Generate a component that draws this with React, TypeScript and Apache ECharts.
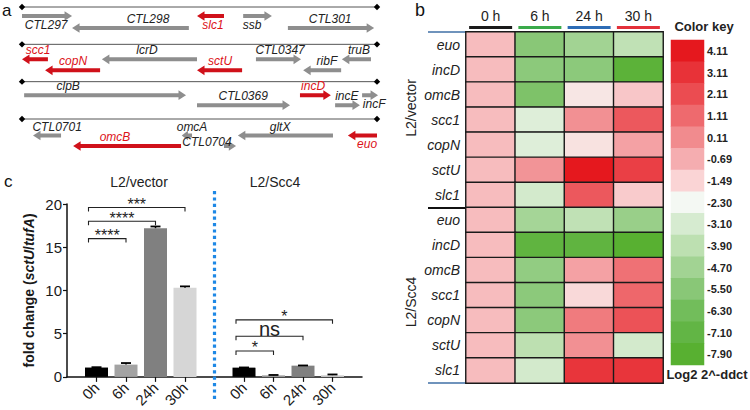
import React, { useEffect, useRef } from 'react';
import * as echarts from 'echarts';

const FONT = '"Liberation Sans", Arial, Helvetica, sans-serif';

// ---------------- panel a : gene map ----------------
// [name, start, end, lane(0 upper / 1 lower), strand, label side, label position, highlighted]
type Gene = [string, number, number, number, number, string, number, boolean];
const row1Genes: Gene[] = [
  ['CTL297', 0, 14.1, 0, 1, 'below', 6.8, false],
  ['CTL298', 14.1, 47.0, 1, -1, 'above', 35.5, false],
  ['slc1', 49.3, 56.9, 0, -1, 'below', 53.8, true],
  ['ssb', 62.3, 70.4, 0, 1, 'below', 64.8, false],
  ['CTL301', 74.9, 99.2, 1, 1, 'above', 86.8, false],
];
const row2Genes: Gene[] = [
  ['scc1', 0, 7.3, 0, -1, 'above', 4.5, true],
  ['copN', 6.5, 22, 1, -1, 'above', 14.4, true],
  ['lcrD', 22.5, 49.3, 0, -1, 'above', 35.2, false],
  ['sctU', 49.3, 62, 1, -1, 'above', 55.8, true],
  ['CTL0347', 65.9, 78.6, 0, 1, 'above', 72.7, false],
  ['ribF', 79.2, 89.9, 1, -1, 'above', 85.9, false],
  ['truB', 90.1, 98.3, 0, -1, 'above', 94.9, false],
];
const row3Genes: Gene[] = [
  ['clpB', 0.6, 46.2, 0, 1, 'above', 13, false],
  ['CTL0369', 49.3, 75.5, 1, 1, 'above', 62.3, false],
  ['incD', 78.3, 87, 0, 1, 'above', 82, true],
  ['incE', 88.2, 95.2, 1, 1, 'above', 91.5, false],
  ['incF', 95.8, 100.3, 0, 1, 'below', 99.2, false],
];
const row4Genes: Gene[] = [
  ['CTL0701', 3.1, 11, 0, -1, 'above', 9.9, false],
  ['omcB', 14.4, 44.8, 1, -1, 'above', 26.2, true],
  ['omcA', 45, 47.9, 0, -1, 'above', 47.9, false],
  ['CTL0704', 56.9, 60.3, 1, 1, 'beside', 52.1, false],
  ['gltX', 60.8, 87.6, 0, -1, 'above', 72.7, false],
  ['euo', 91.8, 100, 0, -1, 'below', 97.2, true],
];
const geneRows = [row1Genes, row2Genes, row3Genes, row4Genes];
const fragmentStart = 0;
const fragmentEnd = 100;

// ---------------- panel b : heatmap ----------------
const heatCols = ['0 h', '6 h', '24 h', '30 h'];
const heatGenes = ['euo', 'incD', 'omcB', 'scc1', 'copN', 'sctU', 'slc1'];
const vectorLog2 = [
  [-1.0, -5.5, -4.7, -3.8],
  [-1.0, -5.4, -5.4, -7.6],
  [-1.0, -5.9, -1.9, -1.2],
  [-1.0, -2.9, 0.0, 1.7],
  [-1.0, -2.9, -1.8, -0.4],
  [-1.0, -0.1, 4.11, 2.6],
  [-1.0, -3.2, 1.7, -1.3],
];
const scc4Log2 = [
  [-1.0, -4.6, -3.8, -5.0],
  [-1.0, -7.3, -7.3, -7.9],
  [-1.0, -5.2, -0.4, 0.9],
  [-1.0, -5.4, -1.6, 1.2],
  [-1.0, -5.4, 0.6, 1.9],
  [-1.0, -3.9, 0.0, -3.2],
  [-1.0, -3.2, 3.0, 3.0],
];
const keyLevels = [4.11, 3.11, 2.11, 1.11, 0.11, -0.69, -1.49, -2.3, -3.1, -3.9, -4.7, -5.5, -6.3, -7.1, -7.9];
const keyColors = [
  '#e5181e', '#e83238', '#eb4c51', '#ee6a6e', '#f18b8e', '#f5adb0', '#fad4d5', '#f4f8f3',
  '#d6ebd0', '#bde0b1', '#a2d393', '#89c777', '#72bd5b', '#62b545', '#58b031',
];
const headerColors = ['#1a1a1a', '#3aaa4a', '#2d6cb5', '#e3303a'];

// ---------------- panel c : bars ----------------
const times = ['0h', '6h', '24h', '30h'];
const vectorMeans = [1.08, 1.42, 17.2, 10.3];
const vectorErr = [0.04, 0.18, 0.2, 0.17];
const scc4Means = [1.07, 0.18, 1.3, 0.2];
const scc4Err = [0.02, 0.04, 0.02, 0.08];
const barColors = ['#000000', '#a3a3a3', '#808080', '#d6d6d6'];
// [from time index, to time index, height, label]
const vectorBrackets: [number, number, number, string][] = [
  [0, 1, 16, '****'],
  [0, 2, 18, '****'],
  [0, 3, 19.6, '***'],
];
const scc4Brackets: [number, number, number, string][] = [
  [0, 1, 3.0, '*'],
  [0, 2, 4.7, 'ns'],
  [0, 3, 6.6, '*'],
];

function keyPos(v: number): number {
  if (v >= keyLevels[0]) return 0;
  const n = keyLevels.length;
  if (v <= keyLevels[n - 1]) return n - 1;
  for (let i = 0; i < n - 1; i++) {
    const a = keyLevels[i];
    const b = keyLevels[i + 1];
    if (v <= a && v >= b) return i + (a - v) / (a - b);
  }
  return n - 1;
}

function buildOption(): any {
  const RED = '#d0111a';
  const GRAY = '#8e8e8e';
  const laneOffsets = [
    [9, 21],
    [15, 26],
    [13.5, 23.5],
    [16.5, 27],
  ];
  const labelShift: Record<string, number> = { above: -9, below: 8.5, beside: -4.5 };
  const genesFlat = geneRows.flatMap((r, ri) => r.map((g) => ({ g, row: ri })));

  const heatRows = [...heatGenes, ...heatGenes];
  const heatData: number[][] = [];
  [...vectorLog2, ...scc4Log2].forEach((row, ri) =>
    row.forEach((v, ci) => heatData.push([ci, ri, v, keyPos(v)]))
  );
  const keyData = keyLevels.map((v, i) => [0, i, v, i]);
  const keyLabels = keyLevels.map((v) => v.toFixed(2));

  const catLabels = ['', ...times, '', ...times, ''];
  const vecIdx = (i: number) => 1 + i;
  const sccIdx = (i: number) => 6 + i;
  const dividerIdx = 5;
  const barData: any[] = catLabels.map(() => '-');
  const errData: number[][] = [];
  times.forEach((_, i) => {
    barData[vecIdx(i)] = { value: vectorMeans[i], itemStyle: { color: barColors[i] } };
    barData[sccIdx(i)] = { value: scc4Means[i], itemStyle: { color: barColors[i] } };
    errData.push([vecIdx(i), vectorMeans[i], vectorErr[i]]);
    errData.push([sccIdx(i), scc4Means[i], scc4Err[i]]);
  });
  const bracketList = [
    ...vectorBrackets.map((b) => [vecIdx(b[0]), vecIdx(b[1]), b[2], b[3]]),
    ...scc4Brackets.map((b) => [sccIdx(b[0]), sccIdx(b[1]), b[2], b[3]]),
  ];

  const headerRich: any = {
    t: { fontSize: 14, color: '#222', fontFamily: FONT, lineHeight: 18 },
  };
  headerColors.forEach((c, i) => {
    headerRich['b' + i] = { backgroundColor: c, width: 43, height: 3, lineHeight: 5 };
  });

  return {
    animation: false,
    backgroundColor: '#ffffff',
    textStyle: { fontFamily: FONT },
    grid: [
      { left: 22, top: 7, width: 355, height: 112 },
      { left: 466, top: 32, width: 197, height: 351 },
      { left: 671, top: 40, width: 33, height: 325 },
      { left: 67, top: 204, width: 295, height: 173 },
    ],
    xAxis: [
      { gridIndex: 0, type: 'value', min: fragmentStart, max: fragmentEnd, show: false },
      {
        gridIndex: 1,
        type: 'category',
        data: heatCols,
        position: 'top',
        axisLine: { show: false },
        axisTick: { show: false },
        splitLine: { show: false },
        axisLabel: {
          interval: 0,
          margin: 2,
          formatter: (v: string, i: number) => `{t|${v}}\n{b${i}|}`,
          rich: headerRich,
        },
      },
      { gridIndex: 2, type: 'category', data: [''], show: false },
      {
        gridIndex: 3,
        type: 'category',
        data: catLabels,
        boundaryGap: false,
        axisLine: { show: true, lineStyle: { color: '#111', width: 1.5 } },
        axisTick: {
          show: true,
          length: 5,
          interval: (_i: number, v: string) => v !== '',
          lineStyle: { color: '#111', width: 1.2 },
        },
        axisLabel: { interval: 0, rotate: 45, fontSize: 15, color: '#1a1a1a', margin: 8, fontFamily: FONT },
        splitLine: { show: false },
      },
    ],
    yAxis: [
      { gridIndex: 0, type: 'value', min: 0, max: 3, inverse: true, show: false },
      {
        gridIndex: 1,
        type: 'category',
        data: heatRows,
        inverse: true,
        axisLine: { show: false },
        axisTick: { show: false },
        splitLine: { show: false },
        axisLabel: { interval: 0, fontStyle: 'italic', fontSize: 14, color: '#222', margin: 6, fontFamily: FONT },
      },
      {
        gridIndex: 2,
        type: 'category',
        data: keyLabels,
        inverse: true,
        position: 'right',
        axisLine: { show: false },
        axisTick: { show: false },
        splitLine: { show: false },
        axisLabel: { interval: 0, fontWeight: 'bold', fontSize: 11, color: '#222', margin: 3, fontFamily: FONT, padding: [3, 0, 0, 0] },
      },
      {
        gridIndex: 3,
        type: 'value',
        min: 0,
        max: 20,
        interval: 5,
        axisLine: { show: true, lineStyle: { color: '#111', width: 1.5 } },
        axisTick: { show: true, length: 4, lineStyle: { color: '#111', width: 1.2 } },
        axisLabel: { fontSize: 15, color: '#1a1a1a', margin: 5, fontFamily: FONT },
        splitLine: { show: false },
        name: 'fold change ({i|sctU}/{i|tufA})',
        nameLocation: 'middle',
        nameGap: 31,
        nameTextStyle: {
          fontWeight: 'bold',
          fontSize: 14,
          color: '#1a1a1a',
          fontFamily: FONT,
          rich: { i: { fontStyle: 'italic', fontWeight: 'bold', fontSize: 14, color: '#1a1a1a', fontFamily: FONT } },
        },
      },
    ],
    visualMap: [
      {
        type: 'continuous',
        show: false,
        min: 0,
        max: keyLevels.length - 1,
        dimension: 3,
        seriesIndex: [2, 3],
        inRange: { color: keyColors },
      },
    ],
    series: [
      // 0: fragment lines
      {
        type: 'custom',
        xAxisIndex: 0,
        yAxisIndex: 0,
        data: geneRows.map((_, ri) => [fragmentStart, fragmentEnd, ri]),
        encode: { x: [0, 1], y: 2 },
        silent: true,
        renderItem: (_p: any, api: any) => {
          const a = api.coord([api.value(0), api.value(2)]);
          const b = api.coord([api.value(1), api.value(2)]);
          const d = 3.2;
          const diamond = (x: number, y: number) => ({
            type: 'polygon',
            shape: { points: [[x - d, y], [x, y - d], [x + d, y], [x, y + d]] },
            style: { fill: '#000' },
          });
          return {
            type: 'group',
            children: [
              { type: 'line', shape: { x1: a[0], y1: a[1], x2: b[0], y2: b[1] }, style: { stroke: '#555', lineWidth: 1 } },
              diamond(a[0], a[1]),
              diamond(b[0], b[1]),
            ],
          };
        },
      },
      // 1: genes
      {
        type: 'custom',
        xAxisIndex: 0,
        yAxisIndex: 0,
        data: genesFlat.map(({ g, row }) => [g[1], g[2], row]),
        encode: { x: [0, 1], y: 2 },
        silent: true,
        renderItem: (params: any, api: any) => {
          const { g, row } = genesFlat[params.dataIndex];
          const [name, start, end, lane, strand, side, labelAt, hl] = g;
          const p0 = api.coord([start, row]);
          const p1 = api.coord([end, row]);
          const y = p0[1] + laneOffsets[row][lane];
          const xa = p0[0];
          const xb = p1[0];
          const h = 2;
          const hw = 4.8;
          const hl2 = Math.min(7.5, (xb - xa) * 0.6);
          const pts =
            strand > 0
              ? [[xa, y - h], [xb - hl2, y - h], [xb - hl2, y - hw], [xb, y], [xb - hl2, y + hw], [xb - hl2, y + h], [xa, y + h]]
              : [[xb, y - h], [xa + hl2, y - h], [xa + hl2, y - hw], [xa, y], [xa + hl2, y + hw], [xa + hl2, y + h], [xb, y + h]];
          const lp = api.coord([labelAt, row]);
          return {
            type: 'group',
            children: [
              { type: 'polygon', shape: { points: pts }, style: { fill: hl ? RED : GRAY } },
              {
                type: 'text',
                x: lp[0],
                y: y + labelShift[side],
                style: {
                  text: name,
                  fill: hl ? '#dc1218' : '#222',
                  fontStyle: 'italic',
                  fontSize: 12,
                  fontFamily: FONT,
                  align: 'center',
                  verticalAlign: 'middle',
                },
              },
            ],
          };
        },
      },
      // 2: heatmap
      {
        type: 'heatmap',
        xAxisIndex: 1,
        yAxisIndex: 1,
        data: heatData,
        silent: true,
        itemStyle: { borderColor: '#1a1a1a', borderWidth: 1.4 },
        emphasis: { disabled: true },
      },
      // 3: colour key
      {
        type: 'heatmap',
        xAxisIndex: 2,
        yAxisIndex: 2,
        data: keyData,
        silent: true,
        emphasis: { disabled: true },
      },
      // 4: bars
      {
        type: 'bar',
        xAxisIndex: 3,
        yAxisIndex: 3,
        data: barData,
        barWidth: 23,
        silent: true,
      },
      // 5: error bars
      {
        type: 'custom',
        xAxisIndex: 3,
        yAxisIndex: 3,
        data: errData,
        encode: { x: 0, y: 1 },
        silent: true,
        z: 5,
        renderItem: (_p: any, api: any) => {
          const x = api.value(0);
          const m = api.value(1);
          const e = api.value(2);
          const base = api.coord([x, m]);
          const top = api.coord([x, m + e]);
          return {
            type: 'group',
            children: [
              { type: 'line', shape: { x1: base[0], y1: base[1], x2: top[0], y2: top[1] }, style: { stroke: '#000', lineWidth: 1.5 } },
              { type: 'line', shape: { x1: top[0] - 5, y1: top[1], x2: top[0] + 5, y2: top[1] }, style: { stroke: '#000', lineWidth: 1.8 } },
            ],
          };
        },
      },
      // 6: significance brackets
      {
        type: 'custom',
        xAxisIndex: 3,
        yAxisIndex: 3,
        data: bracketList.map((b) => [b[0], b[1], b[2]]),
        encode: { x: [0, 1], y: 2 },
        silent: true,
        z: 5,
        renderItem: (params: any, api: any) => {
          const label = bracketList[params.dataIndex][3] as string;
          const a = api.coord([api.value(0), api.value(2)]);
          const b = api.coord([api.value(1), api.value(2)]);
          const x1 = a[0] - 8;
          const x2 = b[0];
          const y = a[1];
          const isNs = label === 'ns';
          return {
            type: 'group',
            children: [
              {
                type: 'polyline',
                shape: { points: [[x1, y + 4], [x1, y], [x2, y], [x2, y + 4]] },
                style: { stroke: '#222', lineWidth: 1.1, fill: 'none' },
              },
              {
                type: 'text',
                x: (x1 + x2) / 2,
                y: isNs ? y + 3 : y - 3,
                style: {
                  text: label,
                  fill: '#222',
                  fontSize: isNs ? 20 : 16,
                  fontFamily: FONT,
                  align: 'center',
                  verticalAlign: isNs ? 'bottom' : 'middle',
                },
              },
            ],
          };
        },
      },
      // 7: dotted divider between groups
      {
        type: 'custom',
        xAxisIndex: 3,
        yAxisIndex: 3,
        data: [[dividerIdx, 0]],
        encode: { x: 0, y: 1 },
        silent: true,
        clip: false,
        renderItem: (params: any, api: any) => {
          const p = api.coord([api.value(0), 0]);
          const cs = params.coordSys;
          return {
            type: 'line',
            shape: { x1: p[0], y1: cs.y - 13, x2: p[0], y2: cs.y + cs.height + 23 },
            style: { stroke: '#1e88e5', lineWidth: 3.2, lineDash: [3.2, 3.2] },
          };
        },
      },
    ],
    graphic: [
      { type: 'text', x: 2, y: 2, style: { text: 'a', fontSize: 17, fontFamily: FONT, fill: '#111' } },
      { type: 'text', x: 415, y: 1, style: { text: 'b', fontSize: 18, fontFamily: FONT, fill: '#111' } },
      { type: 'text', x: 4, y: 173, style: { text: 'c', fontSize: 17, fontFamily: FONT, fill: '#111' } },
      {
        type: 'text', x: 139, y: 182,
        style: { text: 'L2/vector', fontSize: 14, fontFamily: FONT, fill: '#222', align: 'center', verticalAlign: 'middle' },
      },
      {
        type: 'text', x: 275, y: 182,
        style: { text: 'L2/Scc4', fontSize: 14, fontFamily: FONT, fill: '#222', align: 'center', verticalAlign: 'middle' },
      },
      {
        type: 'text', x: 411, y: 108, rotation: Math.PI / 2,
        style: { text: 'L2/vector', fontSize: 14, fontFamily: FONT, fill: '#222', align: 'center', verticalAlign: 'middle' },
      },
      {
        type: 'text', x: 411, y: 302, rotation: Math.PI / 2,
        style: { text: 'L2/Scc4', fontSize: 14, fontFamily: FONT, fill: '#222', align: 'center', verticalAlign: 'middle' },
      },
      { type: 'line', shape: { x1: 428, y1: 32, x2: 466, y2: 32 }, style: { stroke: '#3f6fa6', lineWidth: 1.5 } },
      { type: 'line', shape: { x1: 428, y1: 208, x2: 466, y2: 208 }, style: { stroke: '#111', lineWidth: 2 } },
      { type: 'line', shape: { x1: 428, y1: 383, x2: 466, y2: 383 }, style: { stroke: '#3f6fa6', lineWidth: 1.5 } },
      {
        type: 'text', x: 704, y: 26,
        style: { text: 'Color key', fontSize: 13, fontWeight: 'bold', fontFamily: FONT, fill: '#222', align: 'center', verticalAlign: 'middle' },
      },
      {
        type: 'text', x: 707, y: 374,
        style: { text: 'Log2 2^-ddct', fontSize: 13, fontWeight: 'bold', fontFamily: FONT, fill: '#222', align: 'center', verticalAlign: 'middle' },
      },
    ],
  };
}

export default function App() {
  const ref = useRef<HTMLDivElement>(null);
  useEffect(() => {
    if (!ref.current) return;
    const chart = echarts.init(ref.current, null, { renderer: 'svg' });
    chart.setOption(buildOption());
    return () => chart.dispose();
  }, []);
  return (
    <div
      ref={ref}
      style={{ position: 'fixed', left: 0, top: 0, width: 750, height: 410, background: '#fff' }}
    />
  );
}
